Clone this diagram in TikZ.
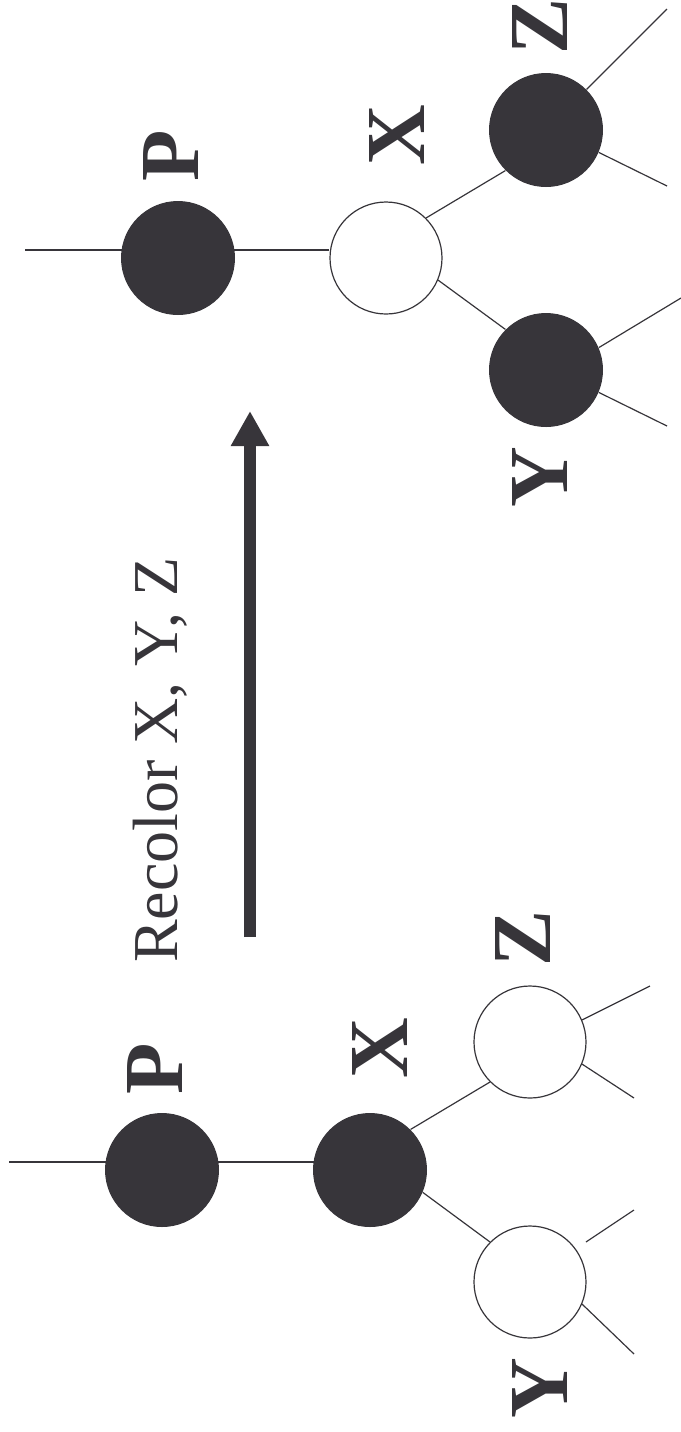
\documentclass[tikz,border=0pt]{standalone}
\usepackage{fontspec}
\setmainfont{Liberation Serif}
\usetikzlibrary{arrows.meta,calc}
\pgfdeclarelayer{bg}
\pgfsetlayers{bg,main}
\definecolor{ink}{RGB}{55,53,58}

\begin{document}
\begin{tikzpicture}[
  x=0.5pt, y=-0.5pt,
  blacknode/.style={circle, fill=ink, inner sep=0pt, minimum size=57pt},
  whitenode/.style={circle, draw=ink, line width=0.6pt, fill=white, inner sep=0pt, minimum size=56pt},
  lbl/.style={rotate=90, anchor=base, inner sep=0pt, text=ink, font=\fontsize{42}{50}\selectfont\bfseries},
  edge/.style={draw=ink, line width=0.6pt},
  bigarrow/.style={draw=ink, line width=6pt, -{Triangle[length=17.5pt,width=18pt]}}
]
\useasboundingbox (0,0) rectangle (681,1432);

% after recoloring (top)
\node[blacknode] (pT) at (178,258) {};
\node[whitenode] (xT) at (386,258) {};
\node[blacknode] (zT) at (546,130) {};
\node[blacknode] (yT) at (546,370) {};

% before recoloring (bottom)
\node[blacknode] (pB) at (162,1170) {};
\node[blacknode] (xB) at (370,1170) {};
\node[whitenode] (zB) at (530,1042) {};
\node[whitenode] (yB) at (530,1282) {};

% labels
\node[lbl] (pTl) at (198,156) {P};
\node[lbl] (xTl) at (424,135) {X};
\node[lbl] (zTl) at (567,26) {Z};
\node[lbl] (yTl) at (567,477) {Y};
\node[lbl] (pBl) at (182,1069) {P};
\node[lbl] (xBl) at (407,1048) {X};
\node[lbl] (zBl) at (550,938) {Z};
\node[lbl] (yBl) at (567,1388) {Y};

\node[rotate=90, anchor=base, inner sep=0pt, text=ink, font=\fontsize{32}{38}\selectfont] (recolor) at (177,760) {Recolor X, Y, Z};

% loose ends
\coordinate (inT) at (25,250);
\coordinate (inB) at (9,1162);
\coordinate (zTa) at (667,9);
\coordinate (zTb) at (667,186);
\coordinate (yTa) at (681,298);
\coordinate (yTb) at (667,426);
\coordinate (zBa) at (650,986);
\coordinate (zBb) at (634,1098);
\coordinate (yBa) at (634,1210);
\coordinate (yBb) at (634,1354);
\coordinate (arrS) at (250,937);
\coordinate (arrE) at (250,411);

\begin{pgfonlayer}{bg}
\draw[edge] (inT) -- (inT -| xT.west);
\draw[edge] (inB) -- (inB -| xB.center);
\end{pgfonlayer}

\draw[edge] (xT.45) -- (zT.225);
\draw[edge] (xT.-23) -- (yT.135);
\draw[edge] (zT.45) -- (zTa);
\draw[edge] (zT.-23) -- (zTb);
\draw[edge] (yT.23) -- (yTa);
\draw[edge] (yT.-23) -- (yTb);

\draw[edge] (xB.45) -- (zB.225);
\draw[edge] (xB.-23) -- (yB.135);
\draw[edge] (zB.23) -- (zBa);
\draw[edge] (zB.-23) -- (zBb);
\draw[edge] ([shift={(56,-40)}]yB.center) -- (yBa);
\draw[edge] (yB.-23) -- (yBb);

\draw[bigarrow] (arrS) -- (arrE);
\end{tikzpicture}
\end{document}
